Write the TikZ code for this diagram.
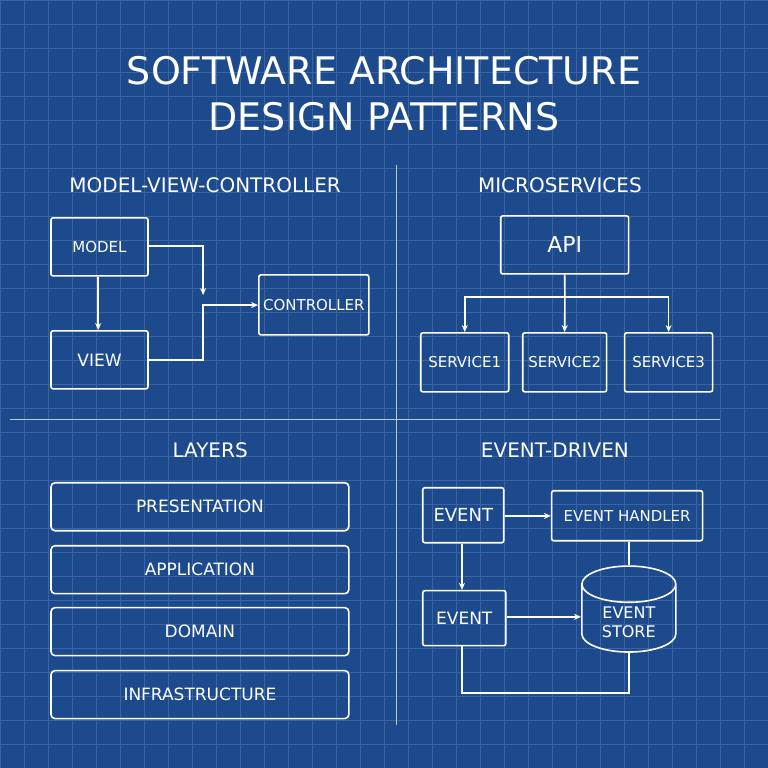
\documentclass[tikz,border=0pt]{standalone}
\usepackage{fontspec}
\setmainfont{DejaVu Sans}
\usetikzlibrary{arrows.meta,positioning,shapes.geometric,calc}
\definecolor{bpblue}{HTML}{1C4A8C}
\definecolor{bpgrid}{HTML}{3A64A2}
\begin{document}
\begin{tikzpicture}[
    x=1pt, y=-1pt,
    box/.style={draw=white, line width=1.6pt, rounded corners=2pt, text=white, font=\fontsize{15}{17}\selectfont, inner sep=0pt, anchor=north west},
    heading/.style={text=white, font=\fontsize{20}{22}\selectfont},
    line/.style={draw=white, line width=1.6pt},
    >={Stealth[length=7pt,width=6pt]}
  ]
    \fill[bpblue] (0,0) rectangle (768,768);
    \foreach \i in {0,24,...,768} {
      \draw[bpgrid, line width=0.5pt] (\i,0) -- (\i,768);
      \draw[bpgrid, line width=0.5pt] (0,\i) -- (768,\i);
    }
    \useasboundingbox (0,0) rectangle (768,768);
    \node[text=white, font=\fontsize{38}{46}\selectfont, align=center] (title) at (384,93) {SOFTWARE ARCHITECTURE\\DESIGN PATTERNS};
    \draw[white!70!bpblue, line width=1pt] (397,165) -- (397,725);
    \draw[white!70!bpblue, line width=1pt] (10,420) -- (720,420);
    % model-view-controller
    \node[heading] (mvchead) at (205,185) {MODEL-VIEW-CONTROLLER};
    \node[box, minimum width=97pt, minimum height=58pt] (model) at (50,217) {MODEL};
    \node[box, minimum width=97pt, minimum height=58pt, font=\fontsize{17}{19}\selectfont] (view) at (50,330) {VIEW};
    \node[box, minimum width=110pt, minimum height=60pt] (controller) at (258,274) {CONTROLLER};
    \draw[line, ->] (model.east |- 0,246) -| (203,295);
    \draw[line, ->] (model.south -| 98,0) -- (view.north -| 98,0);
    \draw[line, ->] (view.east |- 0,360) -| (203,305) -- (controller.west |- 0,305);
    % microservices
    \node[heading] (mshead) at (560,185) {MICROSERVICES};
    \node[box, minimum width=128pt, minimum height=58pt, font=\fontsize{22}{24}\selectfont] (api) at (500,215) {API};
    \node[box, minimum width=88pt, minimum height=59pt] (svc1) at (420,332) {SERVICE1};
    \node[box, minimum width=84pt, minimum height=59pt] (svc2) at (522,332) {SERVICE2};
    \node[box, minimum width=88pt, minimum height=59pt] (svc3) at (624,332) {SERVICE3};
    \coordinate (split) at (565,297);
    \draw[line] (api.south) -- (split);
    \draw[line, ->] (split) -- (svc2.north);
    \draw[line, ->] (split) -| (svc1.north);
    \draw[line, ->] (split) -| (svc3.north);
    % layers
    \node[heading] (layhead) at (210,450) {LAYERS};
    \foreach \name/\y/\label in {pres/482/PRESENTATION, app/545/APPLICATION, dom/607/DOMAIN, infra/670/INFRASTRUCTURE}
      \node[box, rounded corners=4pt, minimum width=298pt, minimum height=48pt, font=\fontsize{17}{19}\selectfont] (\name) at (50,\y) {\label};
    % event-driven
    \node[heading] (evhead) at (555,450) {EVENT-DRIVEN};
    \node[box, minimum width=81pt, minimum height=55pt, font=\fontsize{18}{20}\selectfont] (event1) at (422,487) {EVENT};
    \node[box, minimum width=151pt, minimum height=50pt] (handler) at (551,490) {EVENT HANDLER};
    \node[box, minimum width=83pt, minimum height=55pt, font=\fontsize{17}{19}\selectfont] (event2) at (422,590) {EVENT};
    \node[cylinder, shape border rotate=90, draw=white, line width=1.6pt, text=white, minimum width=94pt, minimum height=85pt, aspect=0.6, align=center, font=\fontsize{16}{19}\selectfont] (store) at (629,622) {EVENT\\STORE};
    \draw[line, ->] (event1.east |- 0,516) -- (handler.west |- 0,516);
    \draw[line, ->] (event1.south -| 462,0) -- (event2.north -| 462,0);
    \draw[line, ->] (event2.east |- 0,617) -- (store.west |- 0,617);
    \draw[line] (handler.south -| store.top) -- (store.top);
    \draw[line] (event2.south -| 462,0) |- (629,693) -- (store.bottom);
\end{tikzpicture}
\end{document}
